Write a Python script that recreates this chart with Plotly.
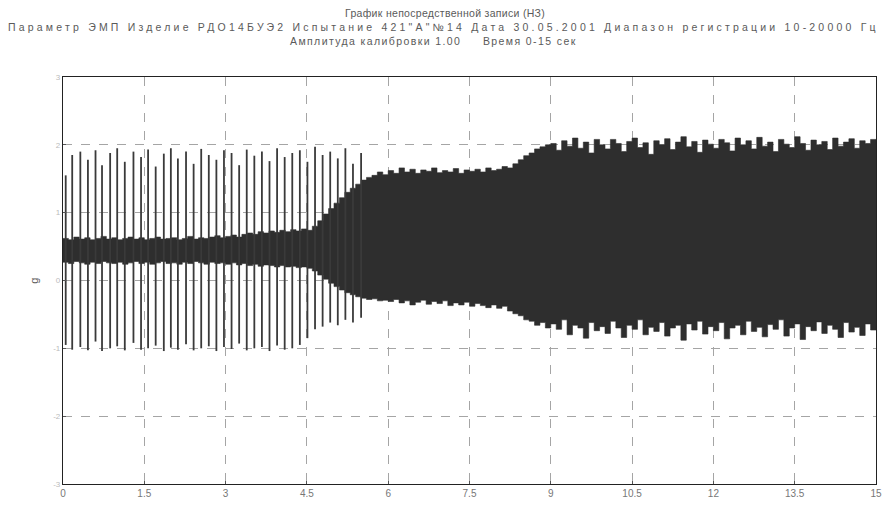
import plotly.graph_objects as go

# Time axis of the envelope samples (s), step 0.1 s from 0 to 15
env_t = [round(i * 0.1, 1) for i in range(151)]

# Upper envelope of the recorded signal, g
env_upper = [
    0.62, 0.60, 0.64, 0.61, 0.63, 0.60, 0.62, 0.65, 0.61, 0.63,
    0.60, 0.62, 0.64, 0.61, 0.63, 0.60, 0.62, 0.64, 0.61, 0.62,
    0.63, 0.60, 0.62, 0.65, 0.61, 0.63, 0.62, 0.64, 0.66, 0.63,
    0.65, 0.67, 0.64, 0.68, 0.70, 0.68, 0.72, 0.70, 0.73, 0.71,
    0.74, 0.72, 0.75, 0.73, 0.76, 0.74, 0.80, 0.88, 0.98, 1.06,
    1.14, 1.22, 1.30, 1.36, 1.42, 1.48, 1.52, 1.55, 1.60, 1.56,
    1.62, 1.58, 1.66, 1.60, 1.64, 1.58, 1.63, 1.61, 1.66, 1.59,
    1.62, 1.60, 1.65, 1.58, 1.63, 1.61, 1.64, 1.60, 1.66, 1.62,
    1.64, 1.68, 1.66, 1.72, 1.78, 1.84, 1.88, 1.94, 1.97, 2.00,
    2.02, 1.92, 2.06, 1.98, 2.10, 1.95, 2.04, 1.88, 2.08, 2.00,
    1.94, 2.08, 2.02, 1.90, 2.05, 2.10, 1.96, 2.03, 1.86, 2.06,
    2.00, 2.09, 1.93, 2.04, 2.12, 1.97, 2.05, 1.89, 2.07, 2.01,
    1.95, 2.08, 2.03, 1.91, 2.10, 2.00, 2.06, 1.94, 2.11, 1.98,
    2.04, 1.90, 2.08, 2.01, 1.96, 2.12, 2.02, 1.92, 2.07, 2.00,
    2.05, 1.93, 2.10, 1.98, 2.04, 2.09, 1.95, 2.06, 2.02, 2.08,
    2.00,
]

# Lower envelope of the recorded signal, g
env_lower = [
    0.27, 0.25, 0.28, 0.26, 0.24, 0.27, 0.25, 0.28, 0.26, 0.25,
    0.27, 0.24, 0.26, 0.28, 0.25, 0.27, 0.24, 0.26, 0.28, 0.25,
    0.26, 0.24, 0.27, 0.25, 0.28, 0.26, 0.24, 0.27, 0.25, 0.26,
    0.24, 0.26, 0.23, 0.25, 0.22, 0.24, 0.21, 0.23, 0.22, 0.20,
    0.22, 0.20, 0.21, 0.19, 0.20, 0.18, 0.14, 0.08, 0.02, -0.04,
    -0.09, -0.14, -0.18, -0.21, -0.24, -0.26, -0.28, -0.27, -0.30, -0.29,
    -0.31, -0.28, -0.33, -0.30, -0.36, -0.32, -0.29, -0.35, -0.31, -0.34,
    -0.30, -0.37, -0.33, -0.36, -0.32, -0.38, -0.34, -0.37, -0.40, -0.36,
    -0.41, -0.38, -0.45, -0.49, -0.52, -0.58, -0.60, -0.66, -0.62, -0.70,
    -0.64, -0.72, -0.58, -0.80, -0.66, -0.70, -0.85, -0.62, -0.74, -0.68,
    -0.78, -0.60, -0.70, -0.84, -0.66, -0.72, -0.58, -0.80, -0.69, -0.75,
    -0.62, -0.82, -0.70, -0.66, -0.88, -0.64, -0.73, -0.60, -0.79, -0.68,
    -0.74, -0.62, -0.86, -0.70, -0.66, -0.80, -0.60, -0.75, -0.69, -0.83,
    -0.65, -0.72, -0.58, -0.82, -0.70, -0.64, -0.87, -0.68, -0.74, -0.61,
    -0.78, -0.66, -0.72, -0.84, -0.62, -0.76, -0.69, -0.81, -0.64, -0.73,
    -0.70,
]

# Periodic impulses during the first part of the run (s, g)
spike_t = [0.05, 0.17, 0.32, 0.46, 0.60, 0.72, 0.87, 1.00, 1.14, 1.30,
           1.44, 1.57, 1.71, 1.86, 1.99, 2.12, 2.27, 2.41, 2.55, 2.69,
           2.83, 2.97, 3.11, 3.25, 3.39, 3.53, 3.67, 3.81, 3.95, 4.09,
           4.23, 4.37, 4.51, 4.65, 4.79, 4.93, 5.07, 5.21, 5.35, 5.50]
spike_hi = [1.55, 1.85, 1.90, 1.78, 1.92, 1.70, 1.88, 1.95, 1.75, 1.90,
            1.82, 1.93, 1.68, 1.87, 1.95, 1.80, 1.90, 1.72, 1.94, 1.85,
            1.78, 1.92, 1.88, 1.70, 1.93, 1.84, 1.90, 1.76, 1.95, 1.82,
            1.88, 1.92, 1.75, 1.97, 1.85, 1.90, 1.80, 1.95, 1.72, 1.88]
spike_lo = [-0.95, -1.02, -0.98, -1.03, -0.90, -1.04, -1.00, -0.97, -1.03, -0.92,
            -1.02, -1.00, -0.96, -1.04, -0.99, -1.02, -0.94, -1.03, -1.00, -0.97,
            -1.04, -0.98, -1.01, -0.93, -1.03, -1.00, -0.98, -1.04, -0.96, -1.02,
            -1.00, -0.95, -0.85, -0.72, -0.68, -0.62, -0.66, -0.58, -0.62, -0.55]

x_ticks = [0, 1.5, 3, 4.5, 6, 7.5, 9, 10.5, 12, 13.5, 15]
x_tick_text = ["0", "1.5", "3", "4.5", "6", "7.5", "9", "10.5", "12", "13.5", "15"]
y_ticks = [-3, -2, -1, 0, 1, 2, 3]
y_tick_text = ["-3", "-2", "-1", "0", "1", "2", "3"]

title_lines = [
    "График непосредственной записи (НЗ)",
    "Параметр ЭМП Изделие РДО14БУЭ2 Испытание 421\"А\"№14 Дата 30.05.2001 Диапазон регистрации 10-20000 Гц",
    "Амплитуда калибровки 1.00     Время 0-15 сек",
]

INK = "#2e2e2e"
FONT = "Liberation Sans, Arial, sans-serif"

fig = go.Figure()

# Dense signal band drawn as the area between its envelopes
fig.add_trace(go.Scatter(
    x=env_t, y=env_lower, mode="lines", line=dict(color=INK, width=0.6, shape="hv"),
    hoverinfo="skip", showlegend=False,
))
fig.add_trace(go.Scatter(
    x=env_t, y=env_upper, mode="lines", line=dict(color=INK, width=0.6, shape="hv"),
    fill="tonexty", fillcolor=INK, hoverinfo="skip", showlegend=False,
))

# Impulses as vertical strokes
sx, sy = [], []
for t, lo, hi in zip(spike_t, spike_lo, spike_hi):
    sx += [t, t, None]
    sy += [lo, hi, None]
fig.add_trace(go.Scatter(
    x=sx, y=sy, mode="lines", line=dict(color="#3a3a3a", width=1.8),
    hoverinfo="skip", showlegend=False,
))

# Title block
title_y = [12, 27, 41]
title_x = [448, 446, 436]
title_spacing = [0.3, 3.2, 1.4]
for txt, yy, xx, sp in zip(title_lines, title_y, title_x, title_spacing):
    fig.add_annotation(
        text=f'<span style="letter-spacing:{sp}px">{txt}</span>',
        xref="paper", yref="paper",
        x=(xx - 63) / (882 - 63), y=1 + (77 - yy) / (488 - 77),
        xanchor="center", yanchor="middle", showarrow=False,
        font=dict(family=FONT, size=10.5, color="#5a5a5a"),
    )

# Axis title
fig.add_annotation(
    text="g", xref="paper", yref="paper",
    x=(33 - 63) / (882 - 63), y=0.5, xanchor="center", yanchor="middle",
    textangle=-90, showarrow=False, font=dict(family=FONT, size=11, color="#555"),
)

fig.update_layout(
    width=892, height=509,
    margin=dict(l=63, r=10, t=77, b=21),
    paper_bgcolor="white", plot_bgcolor="white",
    font=dict(family=FONT, color="#666"),
)
fig.update_xaxes(
    range=[0, 15], tickvals=x_ticks, ticktext=x_tick_text,
    showgrid=True, gridcolor="#a5a5a5", griddash="dash", gridwidth=1,
    zeroline=False, showline=True, linecolor="#222", linewidth=1.2, mirror=True,
    ticks="inside", ticklen=3, tickcolor="#555",
    tickfont=dict(size=10, color="#777"),
)
fig.update_yaxes(
    range=[-3, 3], tickvals=y_ticks, ticktext=y_tick_text,
    showgrid=True, gridcolor="#a5a5a5", griddash="dash", gridwidth=1,
    zeroline=False, showline=True, linecolor="#222", linewidth=1.2, mirror=True,
    ticks="inside", ticklen=3, tickcolor="#555",
    tickfont=dict(size=8, color="#bbb"),
)

fig.write_html("out.html")
